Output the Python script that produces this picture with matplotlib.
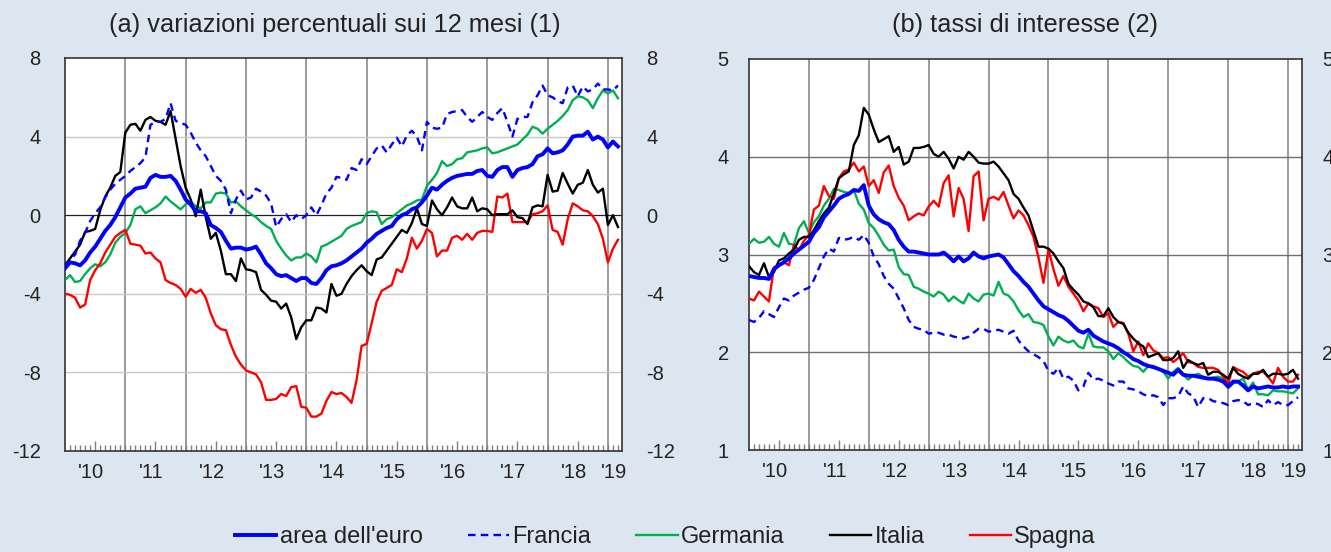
import numpy as np
import matplotlib
matplotlib.use('Agg')
import matplotlib.pyplot as plt
from matplotlib.transforms import blended_transform_factory

plt.rcParams['font.family'] = ['Liberation Sans', 'DejaVu Sans']

# monthly observations, Jan 2010 .. Mar 2019 (111 months)
months = np.arange(111)
year_labels = ["'10", "'11", "'12", "'13", "'14", "'15", "'16", "'17", "'18", "'19"]
series_names = ["area dell'euro", "Francia", "Germania", "Italia", "Spagna"]

# ---- panel (a): variazioni percentuali sui 12 mesi ----
euro_a = [-2.7, -2.4, -2.45, -2.55, -2.3, -1.9, -1.6, -1.2, -0.8, -0.5, -0.1, 0.4,
          0.9, 1.1, 1.35, 1.4, 1.45, 1.9, 2.05, 1.95, 1.95, 2.0, 1.75, 1.3,
          0.8, 0.55, 0.2, 0.2, 0.1, -0.5, -0.65, -0.85, -1.3, -1.7, -1.65, -1.65,
          -1.75, -1.7, -1.6, -2.0, -2.45, -2.7, -3.0, -3.1, -3.05, -3.2, -3.35, -3.2,
          -3.2, -3.45, -3.5, -3.2, -2.8, -2.6, -2.55, -2.45, -2.3, -2.1, -1.9, -1.7,
          -1.4, -1.2, -0.95, -0.8, -0.65, -0.55, -0.2, 0.0, 0.1, 0.3, 0.4, 0.65,
          1.0, 1.4, 1.3, 1.55, 1.75, 1.9, 2.0, 2.05, 2.1, 2.1, 2.25, 2.3,
          2.0, 1.95, 2.3, 2.45, 2.45, 1.95, 2.3, 2.4, 2.45, 2.6, 3.0, 3.1,
          3.4, 3.15, 3.2, 3.3, 3.6, 4.0, 4.05, 4.05, 4.25, 3.85, 4.0, 3.85,
          3.45, 3.75, 3.5]
francia_a = [-2.6, -2.3, -2.0, -1.3, -0.9, -0.3, 0.1, 0.4, 0.9, 1.3, 1.6, 1.8,
             2.0, 2.25, 2.45, 2.65, 2.95, 4.6, 4.75, 4.75, 4.9, 5.7, 4.8, 4.7,
             4.6, 4.2, 3.7, 3.3, 3.0, 2.5, 2.0, 1.75, 1.3, 0.1, 0.8, 1.25,
             0.8, 0.9, 1.35, 1.2, 1.0, 0.6, -0.6, -0.2, 0.05, -0.35, 0.0, -0.2,
             0.0, 0.4, 0.0, 0.5, 1.1, 1.4, 1.95, 1.9, 1.8, 2.4, 2.3, 2.85,
             2.6, 3.0, 3.4, 3.55, 3.2, 3.6, 3.95, 3.5, 4.05, 4.3, 4.0, 3.3,
             4.75, 4.45, 4.4, 4.45, 5.15, 5.25, 5.3, 5.35, 5.0, 4.75, 5.0, 5.25,
             5.0, 4.85, 5.2, 5.45, 4.75, 4.0, 4.9, 5.0, 5.0, 5.75, 6.1, 6.6,
             6.1, 6.0, 5.8, 5.7, 6.5, 6.6, 6.05, 6.55, 6.3, 6.4, 6.7, 6.4,
             6.4, 6.35, 6.6]
germania_a = [-3.3, -3.05, -3.4, -3.35, -3.0, -2.7, -2.5, -2.6, -2.4, -2.0, -1.4, -1.1,
              -0.9, -0.5, 0.3, 0.45, 0.1, 0.25, 0.4, 0.6, 0.95, 0.7, 0.5, 0.3,
              0.55, 0.7, 0.45, 0.35, 0.65, 0.65, 1.1, 1.15, 1.1, 0.65, 0.7, 0.45,
              0.25, 0.05, -0.1, -0.35, -0.55, -0.7, -1.3, -1.7, -2.05, -2.3, -2.15, -2.15,
              -1.95, -2.1, -2.4, -1.6, -1.5, -1.35, -1.2, -1.05, -0.7, -0.55, -0.45, -0.35,
              0.1, 0.2, 0.15, -0.45, -0.2, -0.1, 0.1, 0.3, 0.5, 0.6, 0.75, 0.8,
              1.5, 1.8, 2.15, 2.75, 2.5, 2.6, 2.85, 2.9, 3.2, 3.25, 3.3, 3.4,
              3.45, 3.15, 3.2, 3.3, 3.4, 3.5, 3.6, 3.85, 4.1, 4.5, 4.4, 4.15,
              4.4, 4.6, 4.8, 5.05, 5.35, 5.85, 6.05, 6.0, 5.85, 5.45, 5.95, 6.35,
              6.2, 6.35, 5.95]
italia_a = [-2.55, -2.2, -1.85, -1.5, -0.85, -0.8, -0.7, 0.25, 0.95, 1.4, 2.0, 2.2,
            4.2, 4.6, 4.65, 4.3, 4.85, 5.0, 4.8, 4.75, 4.6, 5.3, 3.9, 2.5,
            1.4, 0.8, -0.05, 1.3, -0.1, -1.2, -0.9, -1.8, -3.0, -3.0, -3.35, -2.2,
            -2.75, -2.8, -2.9, -3.8, -4.05, -4.35, -4.4, -4.75, -4.5, -5.2, -6.3, -5.7,
            -5.35, -5.35, -4.7, -4.75, -4.95, -3.5, -4.1, -4.0, -3.5, -3.1, -2.8, -2.55,
            -2.85, -3.05, -2.25, -2.15, -1.8, -1.45, -1.1, -0.75, -0.9, -0.4, 0.35, -0.45,
            -0.55, 0.75, 0.3, 0.0, 0.4, 0.9, 0.45, 0.35, 0.35, 0.9, 0.2, 0.35,
            0.3, 0.0, 0.05, 0.05, 0.05, 0.25, -0.1, -0.15, -0.45, 0.4, 0.5, 0.45,
            2.05, 1.2, 1.25, 2.15, 1.6, 1.1, 1.55, 1.65, 2.3, 1.55, 1.15, 1.35,
            -0.5, 0.0, -0.6]
spagna_a = [-4.0, -4.05, -4.2, -4.7, -4.55, -3.3, -2.8, -2.45, -1.9, -1.5, -1.1, -0.9,
            -0.75, -1.45, -1.5, -1.55, -1.95, -1.9, -2.2, -2.4, -3.3, -3.45, -3.55, -3.75,
            -4.15, -3.75, -3.95, -3.8, -4.2, -5.0, -5.6, -5.8, -5.85, -6.6, -7.2, -7.6,
            -7.9, -8.0, -8.1, -8.5, -9.4, -9.4, -9.35, -9.1, -9.2, -8.75, -8.7, -9.75,
            -9.8, -10.25, -10.25, -10.1, -9.45, -9.0, -9.1, -9.05, -9.25, -9.55, -8.4, -6.65,
            -6.55, -5.5, -4.4, -3.85, -3.7, -3.55, -2.75, -2.9, -2.2, -1.15, -1.7, -1.3,
            -0.7, -0.9, -2.1, -1.8, -1.8, -1.15, -1.05, -1.25, -0.95, -1.25, -0.9, -0.8,
            -0.8, -0.85, 0.95, 0.9, 1.1, -0.35, -0.35, -0.35, -0.35, 0.05, 0.1, 0.2,
            0.5, -0.75, -0.85, -1.5, -0.2, 0.6, 0.45, 0.25, 0.2, -0.05, -0.45, -1.2,
            -2.4, -1.7, -1.25]

# ---- panel (b): tassi di interesse ----
euro_b = [2.78, 2.77, 2.76, 2.76, 2.75, 2.85, 2.89, 2.92, 2.96, 3.01, 3.05, 3.09,
          3.13, 3.22, 3.28, 3.38, 3.44, 3.5, 3.57, 3.6, 3.62, 3.66, 3.65, 3.71,
          3.5, 3.41, 3.36, 3.33, 3.31, 3.25, 3.15, 3.08, 3.03, 3.03, 3.02, 3.01,
          3.0, 3.0, 3.0, 3.02, 2.98, 2.93, 2.98, 2.93, 2.96, 3.02, 2.98, 2.96,
          2.98, 2.99, 3.0, 2.97, 2.9, 2.83, 2.78, 2.72, 2.67, 2.6, 2.53, 2.47,
          2.44, 2.41, 2.38, 2.36, 2.32, 2.27, 2.22, 2.2, 2.23, 2.17, 2.14, 2.11,
          2.09, 2.07, 2.04, 2.0, 1.97, 1.93, 1.91, 1.88, 1.86, 1.85, 1.83, 1.81,
          1.79, 1.77, 1.82, 1.77, 1.76, 1.76, 1.75, 1.74, 1.73, 1.73, 1.72, 1.7,
          1.65, 1.7, 1.7, 1.66, 1.61, 1.65, 1.63, 1.64, 1.65, 1.64, 1.64, 1.65,
          1.64, 1.65, 1.65]
francia_b = [2.33, 2.31, 2.35, 2.42, 2.39, 2.36, 2.46, 2.55, 2.53, 2.58, 2.61, 2.64,
             2.66, 2.74, 2.86, 2.98, 3.06, 3.03, 3.17, 3.15, 3.16, 3.18, 3.15, 3.2,
             3.12, 2.98, 2.9, 2.78, 2.7, 2.65, 2.55, 2.45, 2.33, 2.26, 2.24, 2.23,
             2.19, 2.2, 2.2, 2.18, 2.18, 2.16, 2.15, 2.14, 2.16, 2.2, 2.24, 2.24,
             2.21, 2.22, 2.23, 2.21, 2.19, 2.22, 2.12, 2.06, 2.01, 1.98, 1.95, 1.91,
             1.81, 1.78, 1.84, 1.73, 1.75, 1.71, 1.61, 1.65, 1.79, 1.72, 1.73, 1.71,
             1.68, 1.66, 1.7, 1.7, 1.63, 1.62, 1.6, 1.57, 1.55, 1.56, 1.54, 1.46,
             1.53, 1.53, 1.55, 1.65, 1.58, 1.55, 1.44, 1.53, 1.53, 1.5, 1.49, 1.48,
             1.46, 1.5, 1.51, 1.5, 1.46, 1.48, 1.47, 1.44, 1.51, 1.46, 1.49, 1.46,
             1.46, 1.5, 1.54]
germania_b = [3.11, 3.16, 3.12, 3.13, 3.18, 3.11, 3.08, 3.22, 3.11, 3.1, 3.27, 3.34,
              3.22, 3.33, 3.39, 3.5, 3.57, 3.67, 3.66, 3.64, 3.63, 3.66, 3.52, 3.46,
              3.32, 3.27, 3.19, 3.1, 3.04, 3.05, 2.87, 2.8, 2.79, 2.67, 2.65, 2.62,
              2.6, 2.57, 2.62, 2.59, 2.52, 2.57, 2.53, 2.5, 2.6, 2.55, 2.52, 2.59,
              2.6, 2.58, 2.72, 2.6, 2.58, 2.52, 2.43, 2.36, 2.39, 2.31, 2.3, 2.28,
              2.16, 2.07, 2.16, 2.12, 2.1, 2.12, 2.06, 2.04, 2.19, 2.06, 2.05, 2.05,
              2.01, 1.93, 1.99, 1.95, 1.9, 1.86, 1.85, 1.8, 1.86, 1.84, 1.83, 1.8,
              1.73, 1.8, 1.84, 1.77, 1.72, 1.76, 1.78, 1.75, 1.73, 1.74, 1.75, 1.73,
              1.63, 1.68, 1.7, 1.73, 1.62, 1.69, 1.57, 1.57, 1.56, 1.61, 1.6, 1.6,
              1.59, 1.58, 1.63]
italia_b = [2.88, 2.82, 2.79, 2.91, 2.77, 2.82, 2.94, 2.96, 3.01, 3.05, 3.15, 3.18,
            3.18, 3.25, 3.34, 3.42, 3.48, 3.62, 3.78, 3.82, 3.85, 4.12, 4.22, 4.5,
            4.43, 4.28, 4.15, 4.18, 4.21, 4.05, 4.1, 3.92, 3.95, 4.09, 4.09, 4.1,
            4.12, 4.03, 4.0, 4.05, 3.98, 3.88, 4.0, 3.97, 4.05, 4.0, 3.94, 3.93,
            3.93, 3.95, 3.9, 3.83, 3.76, 3.62, 3.57, 3.48, 3.4, 3.24, 3.08, 3.08,
            3.06, 3.01, 2.93, 2.86, 2.7, 2.64, 2.59, 2.52, 2.5, 2.46, 2.37, 2.37,
            2.45, 2.36, 2.31, 2.29, 2.2, 2.14, 2.09, 2.06, 1.95, 1.97, 1.99, 1.92,
            1.92, 1.94, 2.01, 1.84, 1.92, 1.89, 1.87, 1.89, 1.77, 1.8, 1.8, 1.77,
            1.73, 1.84, 1.78, 1.75, 1.73, 1.78, 1.78, 1.82, 1.75, 1.78, 1.78, 1.77,
            1.78, 1.82, 1.73]
spagna_b = [2.55, 2.53, 2.62, 2.57, 2.52, 2.87, 2.89, 2.92, 2.89, 3.1, 3.04, 3.14,
            3.2, 3.46, 3.5, 3.7, 3.6, 3.57, 3.78, 3.85, 3.87, 3.94, 3.85, 3.9,
            3.7, 3.76, 3.63, 3.84, 3.91, 3.7, 3.58, 3.5, 3.35, 3.39, 3.42, 3.4,
            3.49, 3.55, 3.49, 3.73, 3.81, 3.39, 3.68, 3.57, 3.24, 3.8, 3.85, 3.35,
            3.57, 3.59, 3.56, 3.64, 3.5, 3.37, 3.45, 3.4, 3.3, 3.18, 2.97, 2.71,
            3.05, 2.85, 2.68, 2.78, 2.67, 2.6, 2.53, 2.42, 2.5, 2.47, 2.45, 2.36,
            2.4, 2.26, 2.31, 2.3, 2.19, 2.01, 2.11, 1.97, 2.09, 2.02, 1.99, 1.94,
            1.95, 1.9, 1.94, 1.99, 1.9, 1.89, 1.85, 1.84, 1.84, 1.84, 1.82, 1.75,
            1.68, 1.85, 1.82, 1.8, 1.75, 1.78, 1.8, 1.8, 1.75, 1.68, 1.84, 1.75,
            1.7, 1.7, 1.77]

panel_a = [euro_a, francia_a, germania_a, italia_a, spagna_a]
panel_b = [euro_b, francia_b, germania_b, italia_b, spagna_b]

BG = '#dce6f0'
W, H = 1331, 552
fig = plt.figure(figsize=(W / 100, H / 100), dpi=100, facecolor=BG)

def px_axes(x0, y0, x1, y1):
    return fig.add_axes([x0 / W, 1 - y1 / H, (x1 - x0) / W, (y1 - y0) / H])

axA = px_axes(65, 58, 622, 451)
axB = px_axes(749, 59, 1302, 450)

styles = [dict(color='#0000ff', lw=2.8, ls='-'),
          dict(color='#0000ff', lw=1.7, ls=(0, (3.2, 2.2))),
          dict(color='#00b050', lw=1.7, ls='-'),
          dict(color='#000000', lw=1.7, ls='-'),
          dict(color='#ff0000', lw=1.7, ls='-')]
draw_order = [2, 4, 3, 1, 0]


def setup(ax, ylim, yticks, hgrid, hcolor, zero_line, label_pad):
    ax.set_facecolor('white')
    ax.set_xlim(0, 110.8)
    ax.set_ylim(*ylim)
    for k in range(1, 10):
        ax.axvline(12 * k, color='#7f7f7f', lw=1.1, zorder=1)
    for yv in hgrid:
        ax.axhline(yv, color=hcolor, lw=1.0, zorder=1)
    if zero_line is not None:
        ax.axhline(zero_line, color='#202020', lw=0.9, zorder=1)
    ax.set_yticks(yticks)
    ax.set_yticklabels([f'{v:g}' for v in yticks])
    ax.tick_params(axis='y', which='both', left=False, right=False,
                   labelleft=True, labelright=True, labelsize=14.5,
                   pad=label_pad, labelcolor='#222222')
    ax.set_xticks([6 + 12 * k for k in range(10) if 6 + 12 * k < 110.8])
    ax.set_xticks(np.arange(1, 111), minor=True)
    ax.tick_params(axis='x', which='major', direction='in', length=7,
                   width=1.0, color='#7f7f7f', labelbottom=False)
    ax.tick_params(axis='x', which='minor', direction='in', length=4,
                   width=1.0, color='#7f7f7f')
    for s in ax.spines.values():
        s.set_color('#333333')
        s.set_linewidth(1.2)
    trans = blended_transform_factory(ax.transData, ax.transAxes)
    pos = [5.2 + 12 * k for k in range(9)] + [109.2]
    for p, lab in zip(pos, year_labels):
        ax.text(p, -0.055, lab, transform=trans, ha='center', va='center',
                fontsize=14.5, color='#222222')


setup(axA, (-12, 8), [-12, -8, -4, 0, 4, 8], [-8, -4, 4], '#c8c8c8', 0, 14)
setup(axB, (1, 5), [1, 2, 3, 4, 5], [2, 3, 4], '#6f6f6f', None, 11)

handles = [None] * 5
for i in draw_order:
    axA.plot(months, panel_a[i], zorder=3, **styles[i])
    line, = axB.plot(months, panel_b[i], zorder=3, **styles[i])
    handles[i] = line

fig.text(335 / W, 1 - 25 / H, '(a) variazioni percentuali sui 12 mesi (1)',
         ha='center', va='center', fontsize=18.3, color='#222222')
fig.text(1025 / W, 1 - 25 / H, '(b) tassi di interesse (2)',
         ha='center', va='center', fontsize=18.3, color='#222222')

fig.legend(handles, series_names, loc='center', bbox_to_anchor=(0.5, 1 - 537 / H),
           ncol=5, frameon=False, fontsize=17, handlelength=1.75,
           handletextpad=0.15, columnspacing=1.9, labelcolor='#222222')

fig.savefig('out.png', dpi=100, facecolor=BG)
